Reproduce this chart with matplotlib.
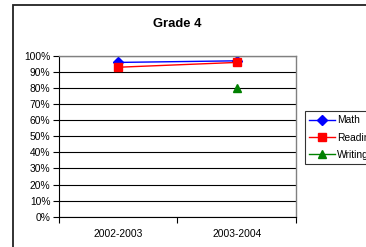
import matplotlib
matplotlib.use("Agg")
import matplotlib.pyplot as plt
import numpy as np
from matplotlib.patches import Rectangle

categories = ["2002-2003", "2003-2004"]
math_vals = [96, 97]
reading_vals = [93, 96]
writing_vals = [np.nan, 80]
yticks = [0, 10, 20, 30, 40, 50, 60, 70, 80, 90, 100]

plt.rcParams['font.family'] = ['Liberation Sans', 'DejaVu Sans']

W, H = 366, 247
fig = plt.figure(figsize=(W / 100, H / 100), dpi=100)
fig.patch.set_facecolor('white')

# outer chart frame (extends beyond the image on right and bottom)
fig.patches.append(Rectangle((13 / W, -0.1), 1.2, (H - 5) / H + 0.1,
                             transform=fig.transFigure, fill=False,
                             edgecolor='#222222', linewidth=1.3, clip_on=False))

ax = fig.add_axes([58.7 / W, 30.3 / H, (296 - 58.7) / W, (216.7 - 56) / H])
x = np.arange(len(categories)) + 0.5

ax.plot(x, math_vals, color='#0000ff', marker='D', markersize=5, linewidth=1, label='Math')
ax.plot(x, reading_vals, color='#ff0000', marker='s', markersize=6, linewidth=1, label='Reading')
ax.plot(x, writing_vals, color='#008000', marker='^', markersize=6, linewidth=1, label='Writing')

ax.set_xlim(0, 2)
ax.set_ylim(0, 100)
ax.set_yticks(yticks)
ax.set_yticklabels([f"{v}%" for v in yticks], fontsize=7.4)
ax.yaxis.grid(True, color='black', linewidth=0.8)
ax.set_axisbelow(True)

ax.set_xticks([0, 1, 2])
ax.set_xticklabels([])
ax.set_xticks(x, minor=True)
ax.set_xticklabels(categories, minor=True, fontsize=7.4)
ax.tick_params(axis='x', which='minor', length=0, pad=9)
ax.tick_params(axis='x', which='major', length=4, width=0.8, direction='out')
ax.tick_params(axis='y', length=4, width=0.8, direction='out', pad=2)

for s in ['top', 'right']:
    ax.spines[s].set_color('#808080')
    ax.spines[s].set_linewidth(1)
ax.spines['left'].set_color('black')
ax.spines['bottom'].set_color('black')

ax.set_title("Grade 4", fontsize=9.4, fontweight='bold', pad=21)

leg = ax.legend(loc='upper left', bbox_to_anchor=(305 / W, 1 - 111 / H),
                bbox_transform=fig.transFigure, fontsize=7.4, frameon=True,
                fancybox=False, edgecolor='black', borderpad=0.4,
                handlelength=2.5, handletextpad=0.2, labelspacing=0.72,
                borderaxespad=0)
leg.get_frame().set_linewidth(0.8)

fig.savefig("out.png", dpi=100)
